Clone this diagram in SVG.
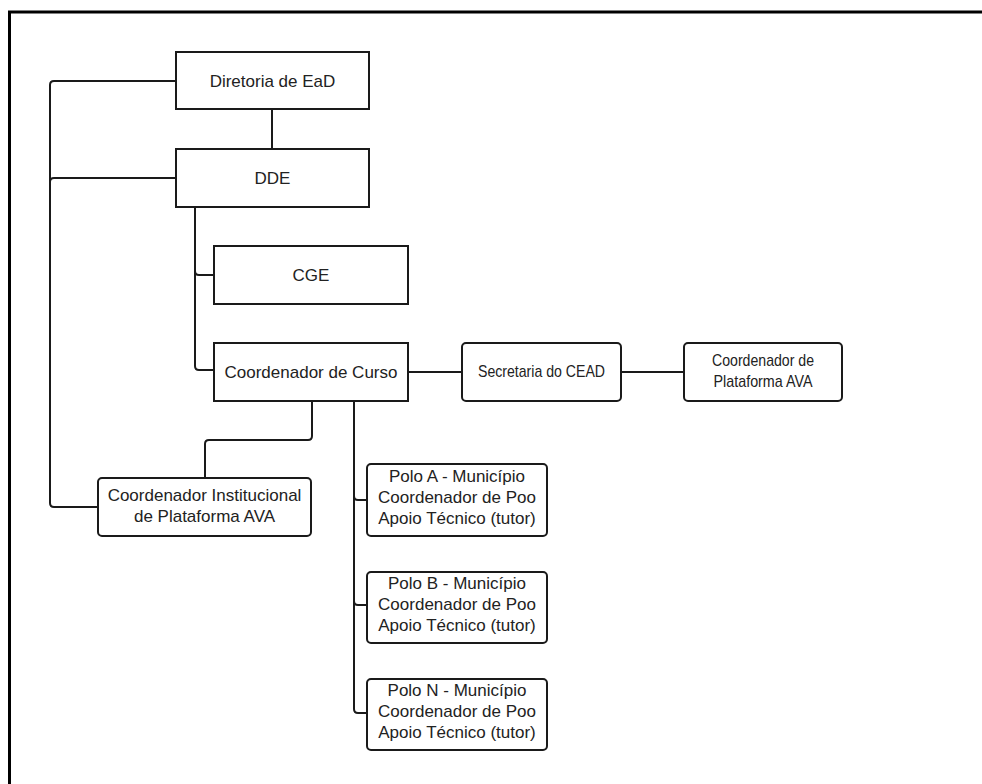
<svg xmlns="http://www.w3.org/2000/svg" width="982" height="784" viewBox="0 0 982 784">
<style>
.box{fill:#fff;stroke:#1a1a1a;stroke-width:2}
.sq{fill:#fff;stroke:#1a1a1a;stroke-width:2}
.ln{fill:none;stroke:#1a1a1a;stroke-width:2;stroke-linejoin:round}
text{font-family:"Liberation Sans",Arial,sans-serif;font-size:17px;fill:#222;text-anchor:middle}
</style>
<rect width="982" height="784" fill="#fff"/>
<path d="M9.5 790 V12 H990" fill="none" stroke="#000" stroke-width="3"/>
<g id="connectors">
<path class="ln" d="M176 81 H54 Q50 81 50 85 V503 Q50 507 54 507 H98"/>
<path class="ln" d="M176 178 H54 Q50 178 50 182"/>
<path class="ln" d="M272 109 V149"/>
<path class="ln" d="M195 207 V366 Q195 370 199 370 H214"/>
<path class="ln" d="M195 271 Q195 275 199 275 H214"/>
<path class="ln" d="M408 372 H462"/>
<path class="ln" d="M621 372 H684"/>
<path class="ln" d="M312 401 V436 Q312 440 308 440 H209 Q205 440 205 444 V478"/>
<path class="ln" d="M354 401 V709 Q354 713 358 713 H367"/>
<path class="ln" d="M354 496 Q354 500 358 500 H367"/>
<path class="ln" d="M354 601 Q354 605 358 605 H367"/>
</g>
<g id="diretoria">
<rect class="sq" x="176" y="52" width="193" height="57"/>
<text x="272.5" y="86.5">Diretoria de EaD</text>
</g>
<g id="dde">
<rect class="sq" x="176" y="149" width="193" height="58"/>
<text x="272.5" y="184">DDE</text>
</g>
<g id="cge">
<rect class="sq" x="214" y="246" width="194" height="58"/>
<text x="311" y="281">CGE</text>
</g>
<g id="coord-curso">
<rect class="sq" x="214" y="343" width="194" height="58"/>
<text x="311" y="378">Coordenador de Curso</text>
</g>
<g id="secretaria">
<rect class="box" x="462" y="343" width="159" height="58" rx="4"/>
<text x="541.5" y="377" textLength="127" lengthAdjust="spacingAndGlyphs">Secretaria do CEAD</text>
</g>
<g id="coord-plataforma">
<rect class="box" x="684" y="343" width="158" height="58" rx="4"/>
<text x="763" y="366" textLength="102" lengthAdjust="spacingAndGlyphs">Coordenador de</text>
<text x="763" y="387" textLength="99" lengthAdjust="spacingAndGlyphs">Plataforma AVA</text>
</g>
<g id="coord-institucional">
<rect class="box" x="98" y="478" width="213" height="58" rx="4"/>
<text x="204.5" y="501">Coordenador Institucional</text>
<text x="204.5" y="522">de Plataforma AVA</text>
</g>
<g id="polo-a">
<rect class="box" x="367" y="464" width="180" height="72" rx="4"/>
<text x="457" y="482">Polo A - Município</text>
<text x="457" y="503">Coordenador de Poo</text>
<text x="457" y="524">Apoio Técnico (tutor)</text>
</g>
<g id="polo-b">
<rect class="box" x="367" y="572" width="180" height="71" rx="4"/>
<text x="457" y="589">Polo B - Município</text>
<text x="457" y="610">Coordenador de Poo</text>
<text x="457" y="631">Apoio Técnico (tutor)</text>
</g>
<g id="polo-n">
<rect class="box" x="367" y="679" width="180" height="71" rx="4"/>
<text x="457" y="696">Polo N - Município</text>
<text x="457" y="717">Coordenador de Poo</text>
<text x="457" y="738">Apoio Técnico (tutor)</text>
</g>
</svg>
